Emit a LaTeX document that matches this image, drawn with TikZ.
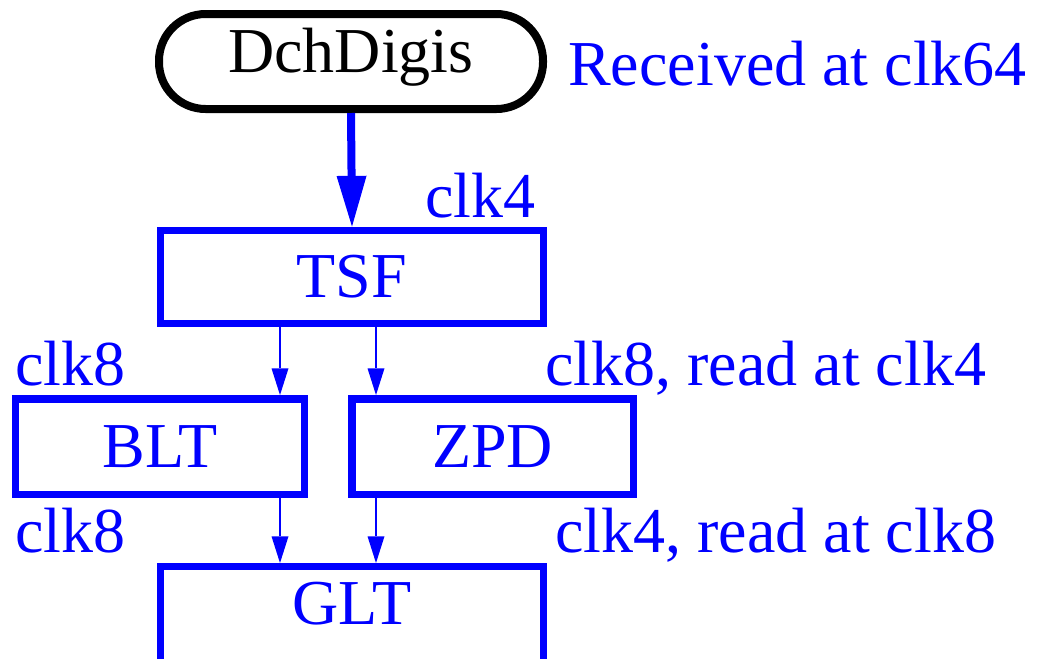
\documentclass[tikz,border=0pt]{standalone}
\usepackage{fontspec}
\setmainfont{Liberation Serif}
\usetikzlibrary{arrows.meta}
\definecolor{pblue}{RGB}{0,0,255}
\begin{document}
\begin{tikzpicture}[x=0.75pt,y=-0.75pt,
  font=\fontsize{48}{58}\selectfont,
  blockbox/.style={draw=pblue,text=pblue,line width=5.6pt,inner sep=0pt},
  bigarrow/.style={draw=pblue,line width=6pt,-{Triangle[width=22.5pt,length=38pt,line width=0pt]}},
  smallarrow/.style={draw=pblue,line width=1.3pt,-{Triangle[width=12.75pt,length=20pt,line width=0pt]}},
  lbl/.style={text=pblue,anchor=base west,inner sep=0pt}]
\useasboundingbox (0,0) rectangle (1039,658);
\node[draw=black,line width=6pt,rounded corners=35pt,minimum width=288pt,minimum height=71.25pt,inner sep=0pt,text height=33pt,text depth=16pt] (dch) at (351,61.5) {DchDigis};
\node[blockbox,minimum width=286.9pt,minimum height=70.1pt] (tsf) at (352,277) {TSF};
\node[blockbox,minimum width=216.4pt,minimum height=71.6pt] (blt) at (160,446.5) {BLT};
\node[blockbox,minimum width=211.1pt,minimum height=71.6pt] (zpd) at (492.5,446.5) {ZPD};
\node[blockbox,anchor=north,minimum width=286.9pt,minimum height=150pt,text height=32.5pt,text depth=96pt] (glt) at (352,563) {GLT};
\coordinate (cL) at (280,0);
\coordinate (cR) at (376,0);
\draw[bigarrow] (dch.south) -- (tsf.north);
\draw[smallarrow] (tsf.south -| cL) -- (blt.north -| cL);
\draw[smallarrow] (tsf.south -| cR) -- (zpd.north -| cR);
\draw[smallarrow] (blt.south -| cL) -- (glt.north -| cL);
\draw[smallarrow] (zpd.south -| cR) -- (glt.north -| cR);
\node[lbl] (l0) at (568,85) {Received at clk64};
\node[lbl] (l1) at (425,217) {clk4};
\node[lbl] (l2) at (15,385) {clk8};
\node[lbl] (l3) at (545,385) {clk8, read at clk4};
\node[lbl] (l4) at (15,552) {clk8};
\node[lbl] (l5) at (555,552) {clk4, read at clk8};
\end{tikzpicture}
\end{document}
